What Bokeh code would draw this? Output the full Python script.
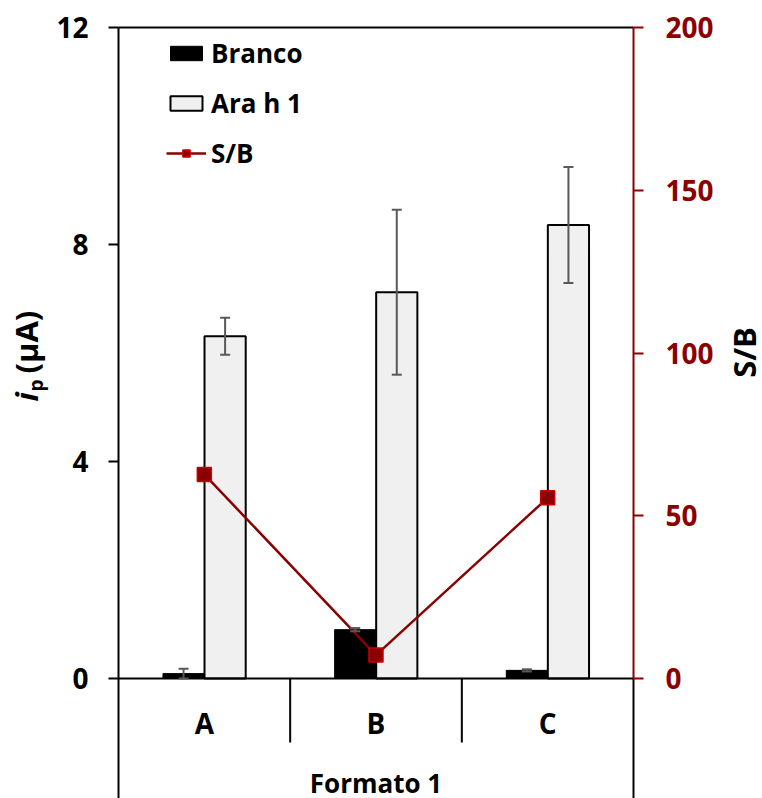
import math

import numpy as np
from bokeh.embed import file_html
from bokeh.models import (ColumnDataSource, FixedTicker, Label, Legend, LegendItem,
                          LinearAxis, Range1d, TeeHead, Whisker)
from bokeh.plotting import figure
from bokeh.resources import INLINE

# ---- data -------------------------------------------------------------
categories = ["A", "B", "C"]
branco = [0.09, 0.90, 0.15]          # ip (uA), blank
branco_err = [0.09, 0.03, 0.02]
ara_h1 = [6.31, 7.12, 8.36]          # ip (uA), Ara h 1
ara_h1_err = [0.34, 1.52, 1.07]
sinal_ruido = [62.7, 7.2, 55.5]      # S/B ratio
ip_ticks = [0, 4, 8, 12]
sb_ticks = [0, 50, 100, 150, 200]
group_title = "Formato 1"

# ---- layout / styling ---------------------------------------------------
W, H = 762, 798
AX_L, AX_R = 118, 633                # pixel columns of the two value axes
AX_TOP, AX_ZERO = 27, 678            # pixel rows of 12 uA and of zero
SEP_LEN = 64                         # length of the category separators, px
FONT = "Open Sans"
DARK_RED = "#8B0000"
GREY = "#595959"

n = len(categories)
Y_MAX = 12.0
SB_MAX = 200.0
px_x = (AX_R - AX_L) / n
px_y = (AX_ZERO - AX_TOP) / Y_MAX
x_lo, x_hi = -AX_L / px_x, n + (W - AX_R) / px_x
y_lo, y_hi = -(H - AX_ZERO) / px_y, Y_MAX + AX_TOP / px_y
k_sb = SB_MAX / Y_MAX

centers = np.arange(n) + 0.5
BAR_W = 0.24
OFF = 0.121

p = figure(width=W, height=H, x_range=Range1d(x_lo, x_hi),
           y_range=Range1d(y_lo, y_hi), output_backend="svg",
           toolbar_location=None, x_axis_location=None, y_axis_location=None,
           min_border=0)
p.grid.visible = False
p.outline_line_color = None
p.extra_y_ranges = {"sb": Range1d(y_lo * k_sb, y_hi * k_sb)}


def bare(axis, color="black"):
    axis.minor_tick_line_color = None
    axis.major_tick_in = 0
    axis.axis_line_width = 2
    axis.axis_line_color = color
    axis.major_tick_line_width = 2
    axis.major_tick_line_color = color
    return axis


def tick_text(axis, color="black", size="28px"):
    axis.major_label_text_font = FONT
    axis.major_label_text_font_size = size
    axis.major_label_text_font_style = "bold"
    axis.major_label_text_color = color


# left axis (ip), running down through the category box
yax = bare(LinearAxis(fixed_location=0, bounds=(y_lo, Y_MAX),
                      ticker=FixedTicker(ticks=ip_ticks)))
yax.major_tick_out = 10
yax.major_label_standoff = 20
tick_text(yax)
p.add_layout(yax, "left")

# right side of the category box (below zero)
box_r = bare(LinearAxis(fixed_location=n, bounds=(y_lo, 0),
                        ticker=FixedTicker(ticks=[])))
p.add_layout(box_r, "right")

# right axis (S/B)
rax = bare(LinearAxis(y_range_name="sb", fixed_location=n, bounds=(0, SB_MAX),
                      ticker=FixedTicker(ticks=sb_ticks)), DARK_RED)
rax.major_tick_out = 10
rax.major_label_standoff = 22
tick_text(rax, DARK_RED)
p.add_layout(rax, "right")

# top edge of the plot area
top = bare(LinearAxis(fixed_location=Y_MAX, bounds=(0, n),
                      ticker=FixedTicker(ticks=[])))
p.add_layout(top, "above")

# zero line
zero = bare(LinearAxis(fixed_location=0, bounds=(0, n),
                       ticker=FixedTicker(ticks=[])))
p.add_layout(zero, "below")

# separators between the categories, hanging below the zero line
bounds_x = list(range(1, n))
p.segment(x0=bounds_x, x1=bounds_x, y0=[0] * len(bounds_x),
          y1=[-SEP_LEN / px_y] * len(bounds_x), line_color="black", line_width=2)

# category names
cax = LinearAxis(fixed_location=0, ticker=FixedTicker(ticks=list(centers)),
                 major_label_overrides={float(c): s for c, s in zip(centers, categories)})
cax.major_tick_line_color = None
cax.minor_tick_line_color = None
cax.axis_line_color = None
cax.major_label_standoff = 19
tick_text(cax)
p.add_layout(cax, "below")

# bars
r_branco = p.vbar(x=centers - OFF, top=branco, bottom=0, width=BAR_W,
                  fill_color="black", line_color="black", line_width=1)
r_ara = p.vbar(x=centers + OFF, top=ara_h1, bottom=0, width=BAR_W,
               fill_color="#F0F0F0", line_color="black", line_width=2)

# error bars
bases = list(centers - OFF) + list(centers + OFF)
vals = branco + ara_h1
errs = branco_err + ara_h1_err
wsrc = ColumnDataSource(dict(base=bases,
                             upper=[v + e for v, e in zip(vals, errs)],
                             lower=[v - e for v, e in zip(vals, errs)]))
p.add_layout(Whisker(base="base", upper="upper", lower="lower", source=wsrc,
                     line_color=GREY, line_width=2, level="annotation",
                     upper_head=TeeHead(size=10, line_color=GREY, line_width=2),
                     lower_head=TeeHead(size=10, line_color=GREY, line_width=2)))

# S/B line
r_line = p.line(centers, sinal_ruido, y_range_name="sb", line_color=DARK_RED,
                line_width=2.5)
r_pts = p.scatter(centers, sinal_ruido, y_range_name="sb", marker="square",
                  size=14, fill_color=DARK_RED, line_color="#CC0000",
                  line_width=1.5)

legend = Legend(items=[LegendItem(label="Branco", renderers=[r_branco]),
                       LegendItem(label="Ara h 1", renderers=[r_ara]),
                       LegendItem(label="S/B", renderers=[r_line, r_pts])],
                location=(AX_L + 48, 627), margin=0, padding=0, spacing=14,
                glyph_width=40, glyph_height=18, label_standoff=5,
                label_text_font=FONT, label_text_font_size="26px",
                label_text_font_style="bold", label_text_color="black",
                background_fill_alpha=0, border_line_color=None)
p.add_layout(legend)


def y_at(px):
    """left-axis value of a pixel row."""
    return (AX_ZERO - px) / px_y


# axis titles (vertical ones read bottom to top)
title_kw = dict(angle=math.pi / 2, text_align="left", text_baseline="middle",
                text_font=FONT, text_color="black")
p.add_layout(Label(x=0, y=y_at(401), x_offset=25 - AX_L, text="i",
                   text_font_size="31px", text_font_style="bold italic", **title_kw))
p.add_layout(Label(x=0, y=y_at(391), x_offset=35 - AX_L, text="p",
                   text_font_size="19px", text_font_style="bold", **title_kw))
p.add_layout(Label(x=0, y=y_at(373), x_offset=25 - AX_L, text="(μA)",
                   text_font_size="31px", text_font_style="bold", **title_kw))
p.add_layout(Label(x=n, y=y_at(352), x_offset=743 - AX_R, text="S/B",
                   angle=math.pi / 2, text_align="center",
                   text_baseline="middle", text_font=FONT,
                   text_font_size="31px", text_font_style="bold",
                   text_color="black"))
p.add_layout(Label(x=n / 2, y=y_at(782), text=group_title, text_align="center",
                   text_baseline="middle", text_font=FONT,
                   text_font_size="26px", text_font_style="bold",
                   text_color="black"))

open("out.html", "w").write(file_html(p, INLINE))
